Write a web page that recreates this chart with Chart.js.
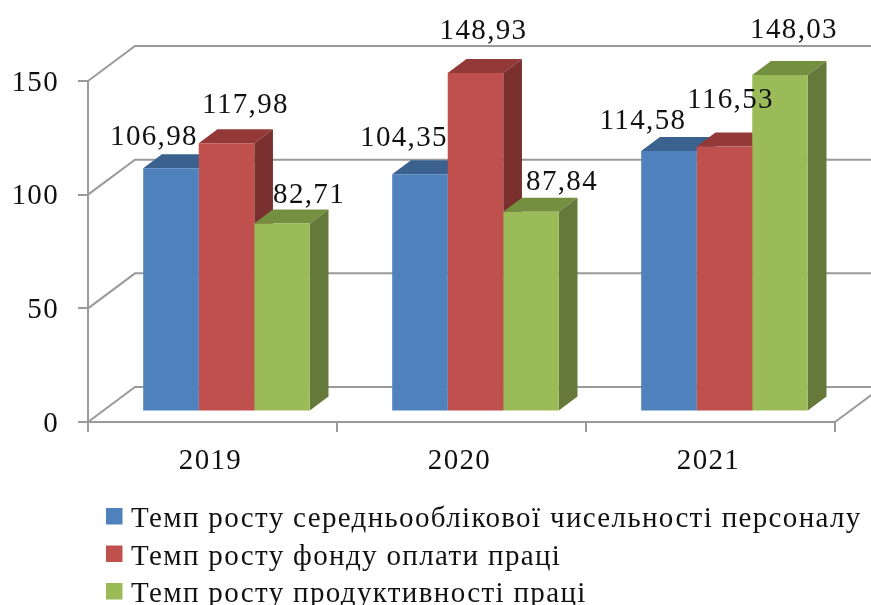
<!DOCTYPE html>
<html>
<head>
<meta charset="utf-8">
<style>
    body { margin: 0; background: #fff; }
    canvas { display: block; }
</style>
<script src="https://cdn.jsdelivr.net/npm/chart.js@4/dist/chart.umd.min.js"></script>
</head>
<body>
<canvas id="column-chart" width="871" height="605"></canvas>
<script>
var categories = ["2019", "2020", "2021"];
var seriesNames = [
    "Темп росту середньооблікової чисельності персоналу",
    "Темп росту фонду оплати праці",
    "Темп росту продуктивності праці"
];
var staffValues = [106.98, 104.35, 114.58];
var payrollValues = [117.98, 148.93, 116.53];
var outputValues = [82.71, 87.84, 148.03];
var yTicks = [0, 50, 100, 150];

var frontColors = ["#4F81BD", "#C0504D", "#9BBB59"];
var topColors = ["#3B618F", "#933A38", "#748F40"];
var sideColors = ["#2F4D71", "#7A302E", "#657A3A"];

var FONT = "'Liberation Serif', serif";
var GRAY = "#9A9A9A";
var TEXT = "#111";

// depth of the box and of the bars
var WALL_DX = 47, WALL_DY = -35;
var BAR_SHIFT_X = 14, BAR_SHIFT_Y = -10.5;
var BAR_DX = 18.7, BAR_DY = -14;

// hand placed labels, relative to the top centre of the bar [series][category]
var labelNudge = [
    [[-17, -23], [-16, -28], [-26, -22]],
    [[19, -30], [8, -34], [6, -39]],
    [[27, -20], [31, -21.5], [14, -37]]
];

function poly(ctx, pts, color) {
    ctx.fillStyle = color;
    ctx.beginPath();
    ctx.moveTo(pts[0][0], pts[0][1]);
    for (var i = 1; i < pts.length; i++) {
        ctx.lineTo(pts[i][0], pts[i][1]);
    }
    ctx.closePath();
    ctx.fill();
}

var box3d = {
    id: "box3d",
    beforeDraw: function (chart) {
        chart.ctx.letterSpacing = "1.35px";
    },
    beforeDatasetsDraw: function (chart) {
        var ctx = chart.ctx, y = chart.scales.y, a = chart.chartArea;
        ctx.save();

        // walls and floor
        ctx.strokeStyle = GRAY;
        ctx.lineWidth = 2;
        ctx.beginPath();
        yTicks.forEach(function (t) {
            var py = y.getPixelForValue(t);
            ctx.moveTo(a.left, py);
            ctx.lineTo(a.left + WALL_DX, py + WALL_DY);
            ctx.lineTo(a.right + WALL_DX, py + WALL_DY);
        });
        ctx.moveTo(a.right, a.bottom);
        ctx.lineTo(a.right + WALL_DX, a.bottom + WALL_DY);
        ctx.stroke();

        // top and side faces, the library then draws the front faces over them
        ctx.translate(BAR_SHIFT_X, BAR_SHIFT_Y);
        chart.data.datasets.forEach(function (ds, s) {
            chart.getDatasetMeta(s).data.forEach(function (bar) {
                var l = bar.x - bar.width / 2, r = bar.x + bar.width / 2;
                poly(ctx, [[l, bar.y], [r, bar.y], [r + BAR_DX, bar.y + BAR_DY], [l + BAR_DX, bar.y + BAR_DY]], topColors[s]);
                poly(ctx, [[r, bar.y], [r + BAR_DX, bar.y + BAR_DY], [r + BAR_DX, bar.base + BAR_DY], [r, bar.base]], sideColors[s]);
            });
        });
        ctx.restore();
    },
    beforeDatasetDraw: function (chart) {
        chart.ctx.save();
        chart.ctx.translate(BAR_SHIFT_X, BAR_SHIFT_Y);
    },
    afterDatasetDraw: function (chart) {
        chart.ctx.restore();
    },
    afterDatasetsDraw: function (chart) {
        var ctx = chart.ctx;
        ctx.save();
        // value labels
        ctx.font = "29px " + FONT;
        ctx.fillStyle = TEXT;
        ctx.textAlign = "center";
        ctx.textBaseline = "alphabetic";
        chart.data.datasets.forEach(function (ds, s) {
            chart.getDatasetMeta(s).data.forEach(function (bar, c) {
                var text = ds.data[c].toFixed(2).replace(".", ",");
                ctx.fillText(text, bar.x + BAR_SHIFT_X + labelNudge[s][c][0], bar.y + BAR_SHIFT_Y + labelNudge[s][c][1]);
            });
        });
        // legend
        ctx.textAlign = "left";
        seriesNames.forEach(function (name, s) {
            var rowY = 516 + s * 37.5;
            ctx.fillStyle = frontColors[s];
            ctx.fillRect(106, rowY - 8, 16.5, 16.5);
            ctx.fillStyle = TEXT;
            ctx.fillText(name, 131, rowY + 11);
        });
        ctx.restore();
    }
};

function dataset(name, values, s) {
    return {
        label: name,
        data: values,
        backgroundColor: frontColors[s],
        clip: false
    };
}

new Chart(document.getElementById("column-chart"), {
    type: "bar",
    data: {
        labels: categories,
        datasets: [
            dataset(seriesNames[0], staffValues, 0),
            dataset(seriesNames[1], payrollValues, 1),
            dataset(seriesNames[2], outputValues, 2)
        ]
    },
    options: {
        responsive: false,
        animation: false,
        barPercentage: 1,
        categoryPercentage: 0.669,
        layout: { padding: { top: 81, right: 36 } },
        plugins: {
            legend: { display: false },
            tooltip: { enabled: false }
        },
        scales: {
            x: {
                afterFit: function (scale) { scale.height = 183; },
                border: { color: GRAY, width: 2 },
                grid: { drawOnChartArea: false, color: GRAY, lineWidth: 2, tickLength: 10 },
                ticks: { color: TEXT, padding: 12, labelOffset: -2, font: { family: FONT, size: 29 }, maxRotation: 0 }
            },
            y: {
                min: 0,
                max: 150,
                afterFit: function (scale) { scale.width = 88; },
                afterBuildTicks: function (scale) {
                    scale.ticks = yTicks.map(function (t) { return { value: t }; });
                },
                border: { color: GRAY, width: 2 },
                grid: { drawOnChartArea: false, color: GRAY, lineWidth: 2, tickLength: 10 },
                ticks: { color: TEXT, padding: 19, labelOffset: 2, font: { family: FONT, size: 29 } }
            }
        }
    },
    plugins: [box3d]
});
</script>
</body>
</html>
